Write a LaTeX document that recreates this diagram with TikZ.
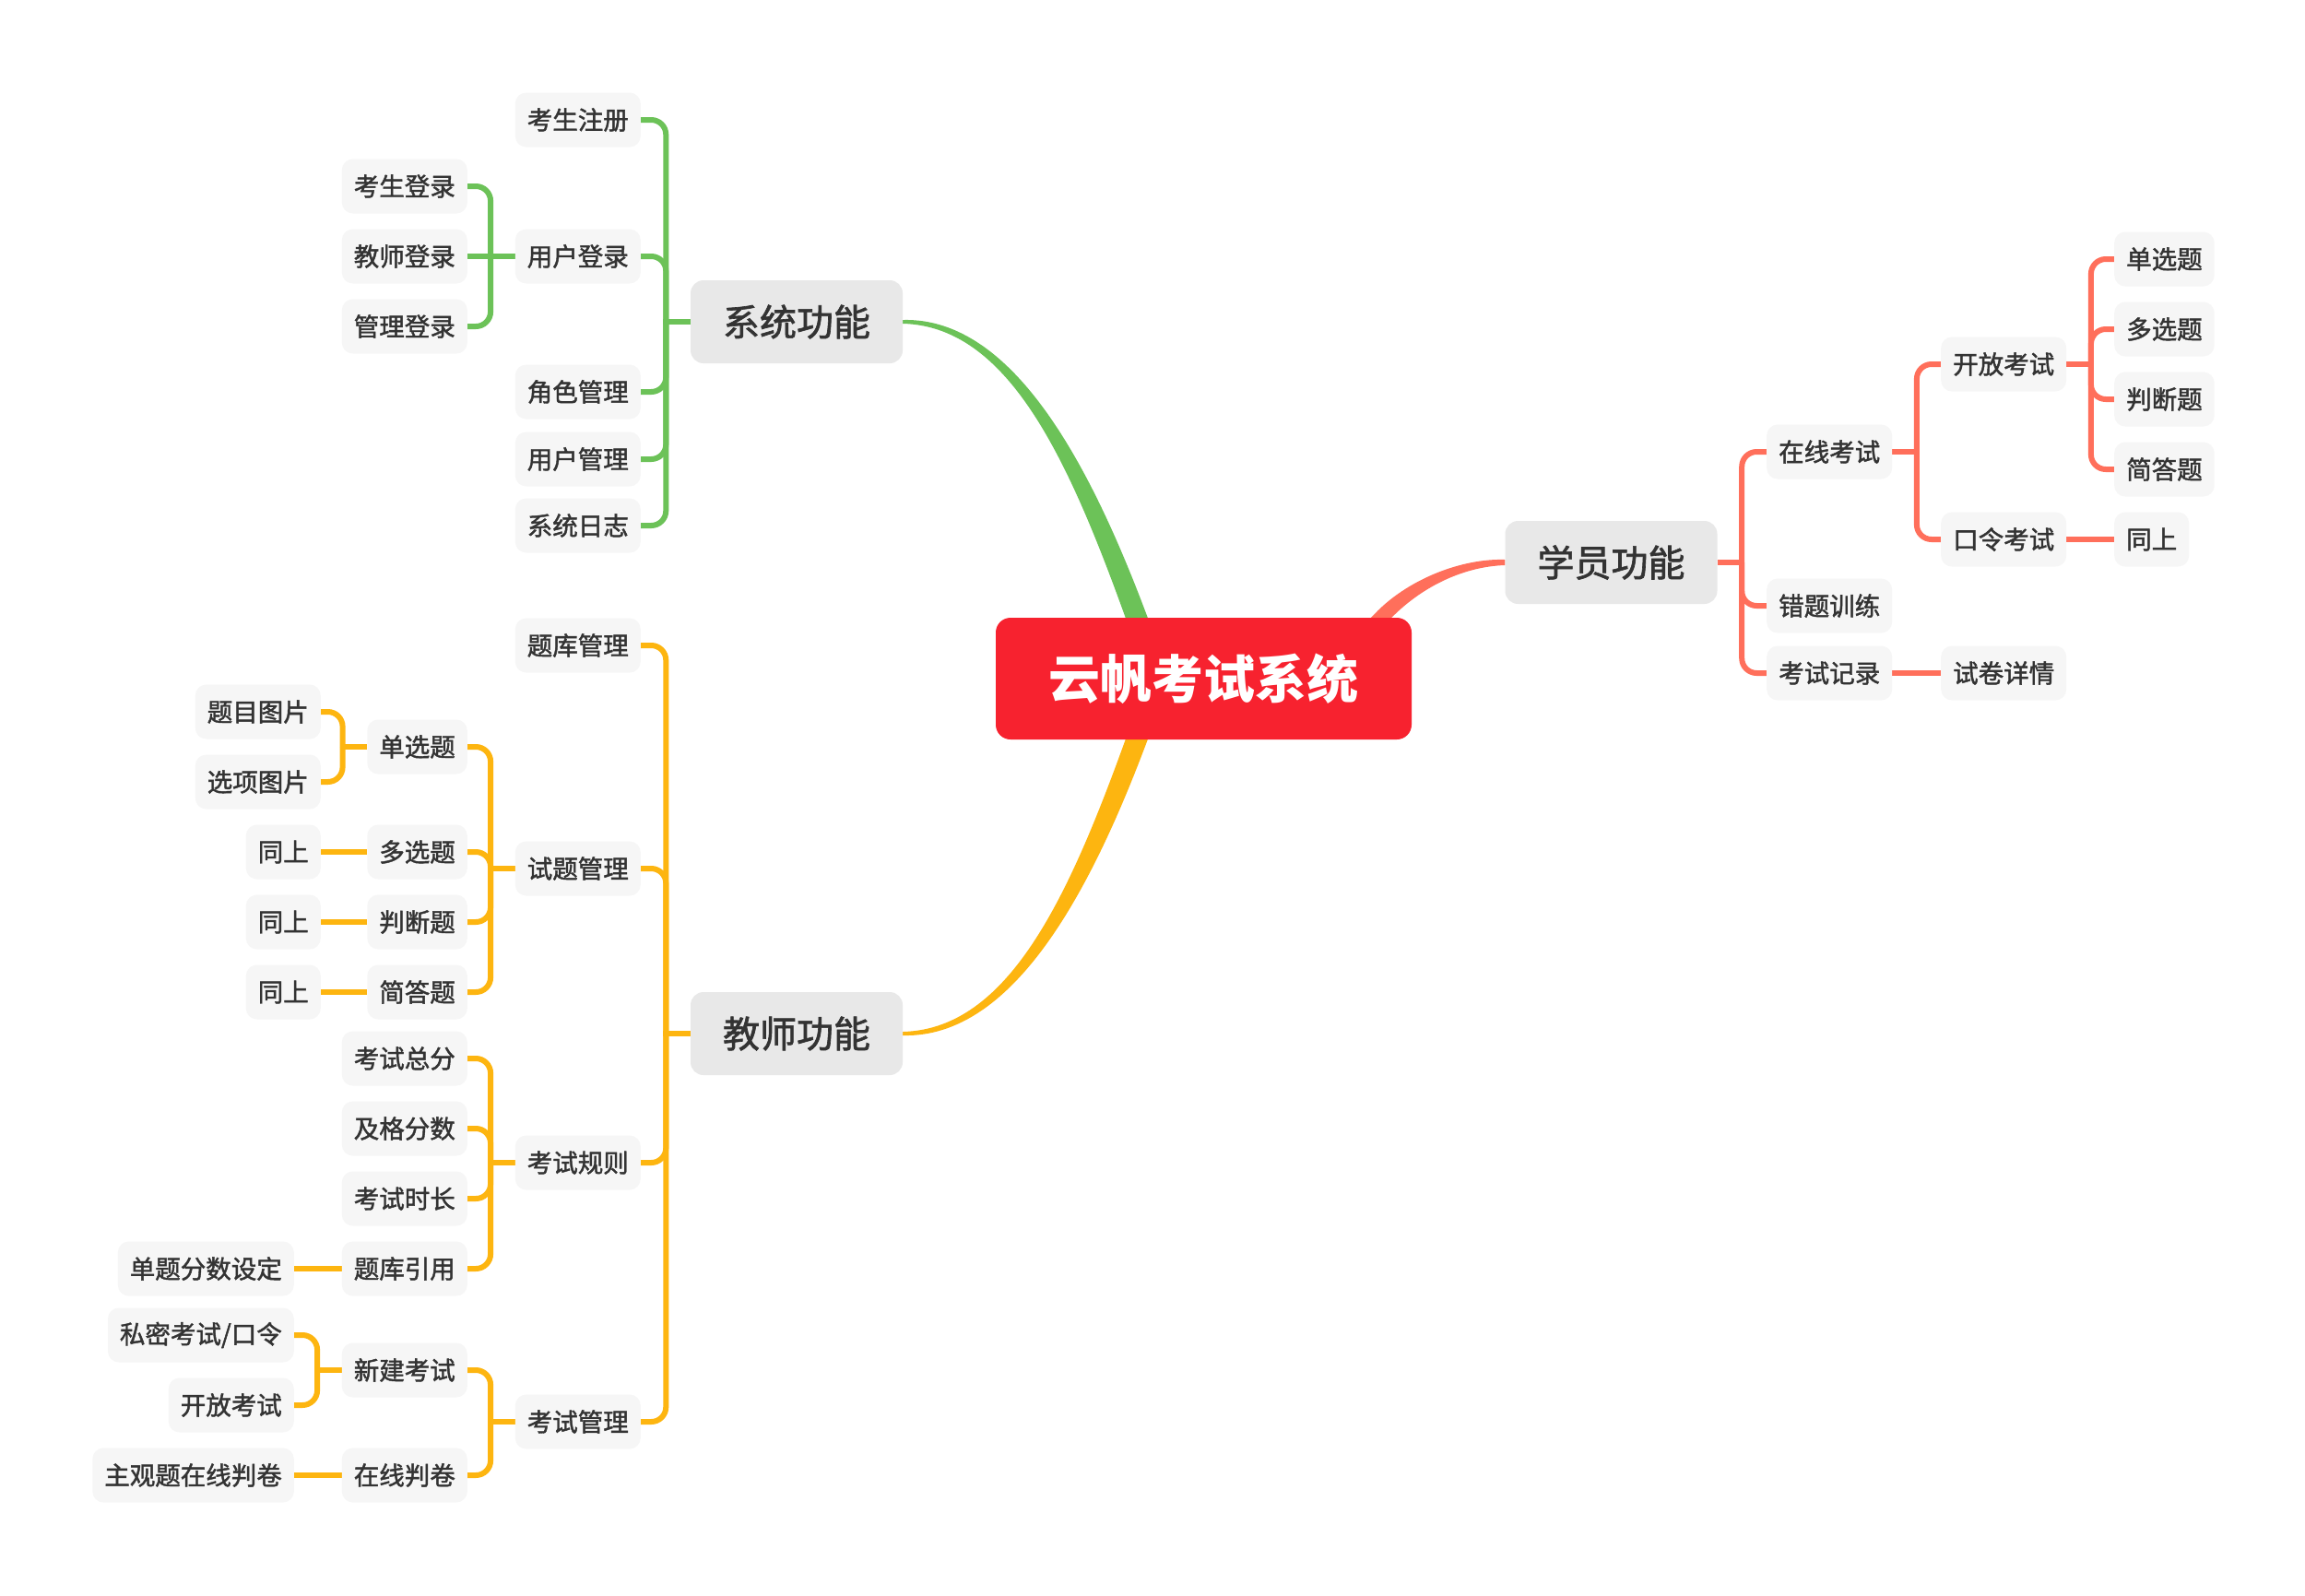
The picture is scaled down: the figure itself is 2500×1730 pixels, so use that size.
\documentclass[tikz,border=0pt]{standalone}
\usepackage{fontspec}
\newfontfamily\cjk{Noto Sans CJK SC}
\newfontfamily\cjkm{Noto Sans CJK SC}[FakeBold=1.6]
\usetikzlibrary{calc,backgrounds}
\definecolor{cgreen}{RGB}{108,194,88}
\definecolor{cyellow}{RGB}{253,181,16}
\definecolor{cred}{RGB}{255,111,91}
\definecolor{croot}{RGB}{247,34,47}
\definecolor{clvone}{RGB}{232,232,232}
\definecolor{cleaf}{RGB}{246,246,246}
\definecolor{ctext}{RGB}{51,51,51}
\newcommand\BrL[2]{\draw[conn] ($(#1.west)+(-26.5,0)$) |- (#2.east);}
\newcommand\BrR[2]{\draw[conn] ($(#1.east)+(26.5,0)$) |- (#2.west);}
\newcommand\StubL[1]{\draw[conn] (#1.west) -- ++(-29.5,0);}
\newcommand\StubR[1]{\draw[conn] (#1.east) -- ++(29.5,0);}
\newcommand\LinkL[2]{\draw[conn] (#1.west) -- (#2.east);}
\newcommand\LinkR[2]{\draw[conn] (#1.east) -- (#2.west);}
\begin{document}
\begin{tikzpicture}[x=1pt,y=-1pt,
  leaf/.style={fill=cleaf, rounded corners=12pt, minimum height=59pt, inner xsep=13pt, inner ysep=0pt, text=ctext, font=\cjkm\fontsize{27.5}{33}\selectfont},
  lvone/.style={fill=clvone, rounded corners=14pt, minimum height=90pt, minimum width=230pt, inner sep=0pt, text=ctext, font=\cjkm\fontsize{40}{48}\selectfont},
  root/.style={fill=croot, rounded corners=16pt, minimum height=132pt, minimum width=451pt, inner sep=0pt, text=white, font=\cjk\bfseries\fontsize{56}{66}\selectfont},
  conn/.style={line width=6pt, rounded corners=16pt},
]
\useasboundingbox (0,0) rectangle (2500,1730);

% main nodes
\node[root] (root) at (1305.5,736) {云帆考试系统};
\node[lvone] (sys) at (864,349) {系统功能};
\node[lvone] (tea) at (864,1121) {教师功能};
\node[lvone] (stu) at (1747.5,610) {学员功能};

% system branch
\node[leaf,anchor=east] (s1) at (695,130) {考生注册};
\node[leaf,anchor=east] (s2) at (695,278) {用户登录};
\node[leaf,anchor=east] (s3) at (695,425) {角色管理};
\node[leaf,anchor=east] (s4) at (695,498) {用户管理};
\node[leaf,anchor=east] (s5) at (695,570) {系统日志};
\node[leaf,anchor=east] (s21) at (507,202) {考生登录};
\node[leaf,anchor=east] (s22) at (507,278) {教师登录};
\node[leaf,anchor=east] (s23) at (507,354) {管理登录};

% teacher branch
\node[leaf,anchor=east] (t1) at (695,700) {题库管理};
\node[leaf,anchor=east] (t2) at (695,942) {试题管理};
\node[leaf,anchor=east] (t3) at (695,1261) {考试规则};
\node[leaf,anchor=east] (t4) at (695,1542) {考试管理};
\node[leaf,anchor=east] (t21) at (507,810) {单选题};
\node[leaf,anchor=east] (t22) at (507,924) {多选题};
\node[leaf,anchor=east] (t23) at (507,1000) {判断题};
\node[leaf,anchor=east] (t24) at (507,1076) {简答题};
\node[leaf,anchor=east] (t211) at (348,772) {题目图片};
\node[leaf,anchor=east] (t212) at (348,848) {选项图片};
\node[leaf,anchor=east] (t22a) at (348,924) {同上};
\node[leaf,anchor=east] (t23a) at (348,1000) {同上};
\node[leaf,anchor=east] (t24a) at (348,1076) {同上};
\node[leaf,anchor=east] (t31) at (507,1148) {考试总分};
\node[leaf,anchor=east] (t32) at (507,1224) {及格分数};
\node[leaf,anchor=east] (t33) at (507,1300) {考试时长};
\node[leaf,anchor=east] (t34) at (507,1376) {题库引用};
\node[leaf,anchor=east] (t34a) at (319,1376) {单题分数设定};
\node[leaf,anchor=east] (t41) at (507,1486) {新建考试};
\node[leaf,anchor=east] (t42) at (507,1600) {在线判卷};
\node[leaf,anchor=east] (t41a) at (319,1448) {私密考试/口令};
\node[leaf,anchor=east] (t41b) at (319,1524) {开放考试};
\node[leaf,anchor=east] (t42a) at (319,1600) {主观题在线判卷};

% student branch
\node[leaf,anchor=west] (u1) at (1916,490) {在线考试};
\node[leaf,anchor=west] (u2) at (1916,657) {错题训练};
\node[leaf,anchor=west] (u3) at (1916,730) {考试记录};
\node[leaf,anchor=west] (u11) at (2105,395) {开放考试};
\node[leaf,anchor=west] (u12) at (2105,585) {口令考试};
\node[leaf,anchor=west] (u31) at (2105,730) {试卷详情};
\node[leaf,anchor=west] (u111) at (2293,281) {单选题};
\node[leaf,anchor=west] (u112) at (2293,357) {多选题};
\node[leaf,anchor=west] (u113) at (2293,433) {判断题};
\node[leaf,anchor=west] (u114) at (2293,509) {简答题};
\node[leaf,anchor=west] (u121) at (2293,585) {同上};

\begin{scope}[on background layer]
  \fill[white] (0,0) rectangle (2500,1730);
  % tapered main connectors
  \fill[cgreen] ($(sys.east)+(0,-2)$) .. controls ($(sys.east)+(121,-5)$) and ($(root.north)+(-118.7,-162.3)$) .. ($(root.north)+(-51.2,26.2)$)
     -- ($(root.north)+(-72.8,33.8)$) .. controls ($(root.north)+(-139.3,-154.9)$) and ($(sys.east)+(121,5)$) .. ($(sys.east)+(0,2)$) -- cycle;
  \fill[cyellow] ($(tea.east)+(0,2)$) .. controls ($(tea.east)+(121,5)$) and ($(root.south)+(-118.7,162.3)$) .. ($(root.south)+(-51.2,-26.2)$)
     -- ($(root.south)+(-72.8,-33.8)$) .. controls ($(root.south)+(-139.3,154.9)$) and ($(tea.east)+(121,-5)$) .. ($(tea.east)+(0,-2)$) -- cycle;
  \fill[cred] ($(stu.west)+(0,-3)$) .. controls ($(stu.west)+(-47,-4.5)$) and ($(root.north east)+(-1.9,-42)$) .. ($(root.north east)+(-36.8,-7.5)$)
     -- ($(root.north east)+(-59,15.5)$) -- ($(root.north east)+(-47.2,26.5)$) -- ($(root.north east)+(-25.2,3.5)$)
     .. controls ($(root.north east)+(7.7,-31.6)$) and ($(stu.west)+(-47,4.5)$) .. ($(stu.west)+(0,3)$) -- cycle;

  % system branch
  \begin{scope}[draw=cgreen]
    \StubL{sys}
    \foreach \c in {s1,s2,s3,s4,s5} {\BrL{sys}{\c}}
    \StubL{s2}
    \BrL{s2}{s21} \LinkL{s2}{s22} \BrL{s2}{s23}
  \end{scope}

  % teacher branch
  \begin{scope}[draw=cyellow]
    \StubL{tea}
    \foreach \c in {t1,t2,t3,t4} {\BrL{tea}{\c}}
    \StubL{t2}
    \foreach \c in {t21,t22,t23,t24} {\BrL{t2}{\c}}
    \StubL{t21}
    \BrL{t21}{t211} \BrL{t21}{t212}
    \LinkL{t22}{t22a} \LinkL{t23}{t23a} \LinkL{t24}{t24a}
    \StubL{t3}
    \foreach \c in {t31,t32,t33,t34} {\BrL{t3}{\c}}
    \LinkL{t34}{t34a}
    \StubL{t4}
    \BrL{t4}{t41} \BrL{t4}{t42}
    \StubL{t41}
    \BrL{t41}{t41a} \BrL{t41}{t41b}
    \LinkL{t42}{t42a}
  \end{scope}

  % student branch
  \begin{scope}[draw=cred]
    \StubR{stu}
    \foreach \c in {u1,u2,u3} {\BrR{stu}{\c}}
    \StubR{u1}
    \BrR{u1}{u11} \BrR{u1}{u12}
    \StubR{u11}
    \foreach \c in {u111,u112,u113,u114} {\BrR{u11}{\c}}
    \LinkR{u12}{u121}
    \LinkR{u3}{u31}
  \end{scope}
\end{scope}
\end{tikzpicture}
\end{document}
